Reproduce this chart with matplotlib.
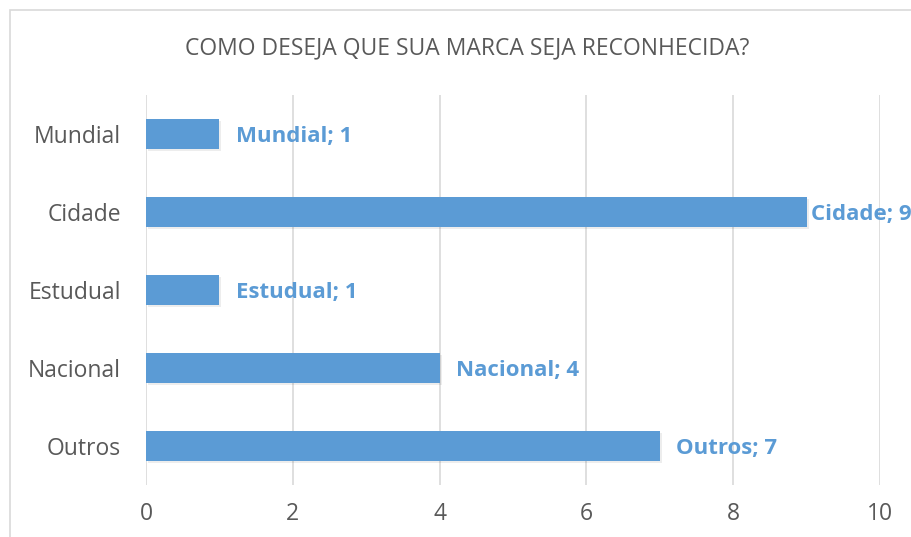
import matplotlib.pyplot as plt
import matplotlib.patheffects as pe
from matplotlib.patches import Rectangle

# DATA
categorias = ['Mundial', 'Cidade', 'Estudual', 'Nacional', 'Outros']
valores = [1, 9, 1, 4, 7]
titulo = 'COMO DESEJA QUE SUA MARCA SEJA RECONHECIDA?'

azul = '#5B9BD5'
cinza = '#595959'
fonte = 'Open Sans'

fig = plt.figure(figsize=(9.11, 5.37), dpi=100)
# borda do grafico (cortada a direita e embaixo)
fig.patches.append(Rectangle((10/911, -0.1), 1.2, 1 - 10/537 + 0.1, transform=fig.transFigure,
                             fill=False, edgecolor='#D9D9D9', linewidth=1.2))

ax = fig.add_axes([146/911, 1 - 485/537, (880 - 146)/911, (485 - 95)/537])
pos = list(range(len(categorias)))
barras = ax.barh(pos, valores, height=0.39, color=azul, zorder=3)
for b in barras:
    b.set_path_effects([pe.SimplePatchShadow(offset=(1.5, -1.5), shadow_rgbFace='#000000', alpha=0.07), pe.Normal()])

ax.set_xlim(0, 10)
ax.set_ylim(len(categorias) - 0.5, -0.5)
ax.set_xticks([0, 2, 4, 6, 8, 10])
ax.set_yticks(pos)
ax.set_yticklabels(categorias)
ax.grid(axis='x', color='#D9D9D9', linewidth=1.2, zorder=0)
ax.tick_params(length=0, labelcolor=cinza, labelsize=16.5)
ax.tick_params(axis='x', pad=12)
ax.tick_params(axis='y', pad=18)
for lab in ax.get_xticklabels() + ax.get_yticklabels():
    lab.set_fontfamily(fonte)
for s in ax.spines.values():
    s.set_visible(False)

for i, v in enumerate(valores):
    desloc = 3 if v == max(valores) else 12
    ax.annotate('%s; %d' % (categorias[i], v), (v, i), xytext=(desloc, -5.7), textcoords='offset points',
                va='baseline', ha='left', color=azul, fontsize=16, fontweight='bold',
                fontfamily=fonte, annotation_clip=False, clip_on=False)

fig.text(467/911, 1 - 48/537, titulo, ha='center', va='center', color=cinza,
         fontsize=16.5, fontfamily=fonte)

fig.savefig('out.png', dpi=100)
